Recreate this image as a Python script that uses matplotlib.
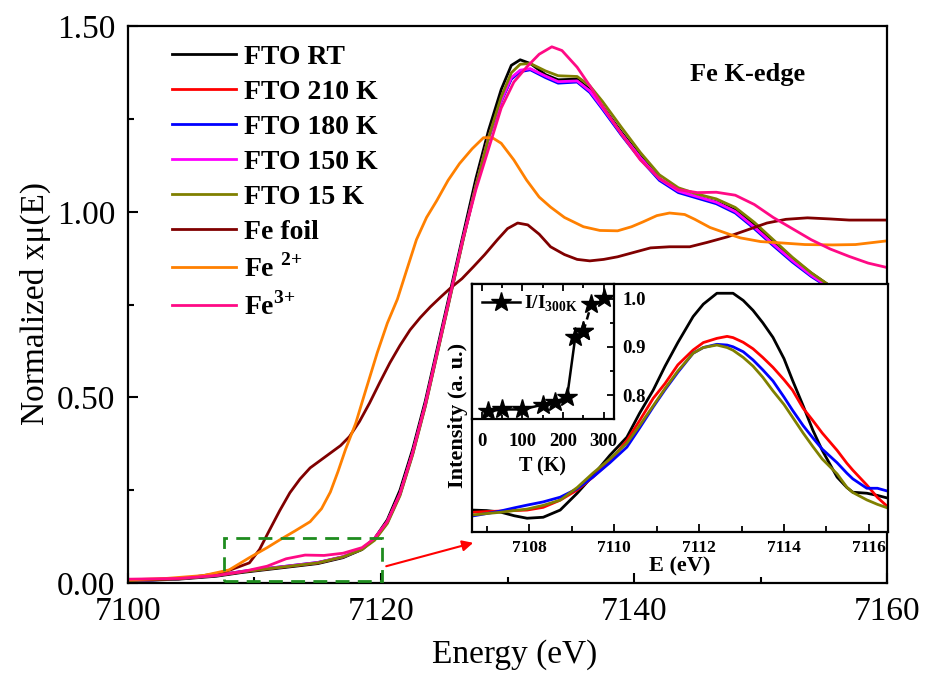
import numpy as np
import matplotlib
matplotlib.use('Agg')
import matplotlib.pyplot as plt
from matplotlib.patches import Rectangle

plt.rcParams['font.family'] = 'Liberation Serif'
plt.rcParams['mathtext.fontset'] = 'custom'
plt.rcParams['mathtext.rm'] = 'Liberation Serif'
plt.rcParams['mathtext.bf'] = 'Liberation Serif:bold'

# ---- main XANES spectra ----
e_fto = [7100, 7104, 7107, 7109, 7111, 7113, 7115, 7117, 7118.5, 7119.5, 7120.5, 7121.5,
         7122.5, 7123.5, 7124.5, 7125.5, 7126.5, 7127.5, 7128.5, 7129.5, 7130.3, 7131,
         7131.8, 7133, 7134, 7135.5, 7136.5, 7137.5, 7139, 7140.5, 7142, 7143.5, 7145,
         7146.5, 7148, 7149.5, 7151, 7152.5, 7154, 7155.5, 7157, 7158.5, 7160]
fto_rt = [0.005, 0.01, 0.018, 0.028, 0.036, 0.044, 0.052, 0.068, 0.09, 0.12, 0.17, 0.25,
          0.36, 0.49, 0.64, 0.79, 0.94, 1.09, 1.22, 1.33, 1.395, 1.41,
          1.40, 1.37, 1.356, 1.358, 1.33, 1.285, 1.215, 1.15, 1.09, 1.055, 1.04,
          1.027, 1.005, 0.965, 0.92, 0.875, 0.835, 0.80, 0.785, 0.783, 0.79]
fto_210 = [0.006, 0.011, 0.02, 0.03, 0.038, 0.046, 0.054, 0.07, 0.092, 0.12, 0.165, 0.24,
           0.35, 0.48, 0.63, 0.78, 0.93, 1.07, 1.2, 1.30, 1.36, 1.38,
           1.385, 1.365, 1.35, 1.352, 1.325, 1.28, 1.21, 1.145, 1.088, 1.055, 1.04,
           1.025, 1.0, 0.958, 0.912, 0.868, 0.828, 0.795, 0.782, 0.782, 0.79]
fto_180 = [0.005, 0.011, 0.02, 0.031, 0.039, 0.047, 0.055, 0.07, 0.091, 0.118, 0.163, 0.238,
           0.348, 0.478, 0.628, 0.778, 0.928, 1.068, 1.198, 1.298, 1.358, 1.378,
           1.383, 1.362, 1.347, 1.35, 1.322, 1.277, 1.207, 1.142, 1.085, 1.052, 1.037,
           1.022, 0.997, 0.955, 0.909, 0.865, 0.826, 0.793, 0.781, 0.782, 0.792]
fto_150 = [0.006, 0.012, 0.021, 0.031, 0.039, 0.047, 0.055, 0.071, 0.092, 0.12, 0.165, 0.24,
           0.35, 0.48, 0.63, 0.78, 0.93, 1.07, 1.2, 1.30, 1.362, 1.382,
           1.386, 1.366, 1.351, 1.353, 1.326, 1.281, 1.211, 1.146, 1.089, 1.056, 1.041,
           1.026, 1.001, 0.959, 0.913, 0.869, 0.829, 0.795, 0.782, 0.781, 0.788]
fto_15 = [0.006, 0.011, 0.02, 0.03, 0.038, 0.046, 0.054, 0.07, 0.09, 0.115, 0.16, 0.235,
          0.345, 0.475, 0.625, 0.775, 0.925, 1.07, 1.2, 1.31, 1.375, 1.398,
          1.40, 1.38, 1.367, 1.365, 1.34, 1.298, 1.228, 1.16, 1.10, 1.065, 1.048,
          1.035, 1.012, 0.972, 0.925, 0.878, 0.836, 0.80, 0.785, 0.782, 0.79]

e_fe3 = [7100, 7104, 7107, 7109, 7111, 7112.5, 7114, 7115.5, 7117, 7118.5, 7119.5, 7120.5,
         7121.5, 7122.5, 7123.5, 7124.5, 7125.5, 7126.5, 7127.5, 7128.5, 7129.5, 7130.5,
         7131.5, 7132.5, 7133.5, 7134.3, 7135.5, 7136.5, 7137.5, 7139, 7140.5, 7142,
         7143.5, 7145, 7146.5, 7148, 7149.5, 7151, 7152.5, 7154, 7155.5, 7157, 7158.5, 7160]
fe3 = [0.01, 0.012, 0.02, 0.03, 0.045, 0.065, 0.075, 0.074, 0.08, 0.095, 0.12, 0.165,
       0.24, 0.35, 0.48, 0.63, 0.78, 0.93, 1.06, 1.17, 1.28, 1.35,
       1.39, 1.425, 1.445, 1.435, 1.39, 1.34, 1.285, 1.21, 1.14, 1.09,
       1.06, 1.052, 1.053, 1.045, 1.02, 0.985, 0.955, 0.925, 0.90, 0.88, 0.862, 0.85]

e_fe2 = [7100, 7103, 7106, 7108, 7109.6, 7111, 7112, 7113.2, 7114.4, 7115.3, 7116, 7116.6,
         7117.2, 7118, 7118.8, 7119.7, 7120.5, 7121.3, 7122, 7122.8, 7123.6, 7124.4,
         7125.3, 7126.2, 7127.2, 7128.1, 7128.8, 7129.5, 7130.5, 7131.5, 7132.5, 7133.4,
         7134.5, 7136, 7137.3, 7138.7, 7139.8, 7140.7, 7141.8, 7142.8, 7144, 7144.8,
         7146, 7147.5, 7148.4, 7150, 7151.8, 7153.5, 7155.7, 7157.5, 7159, 7160]
fe2 = [0.008, 0.012, 0.02, 0.035, 0.068, 0.095, 0.116, 0.14, 0.165, 0.2, 0.245, 0.3,
       0.36, 0.43, 0.52, 0.62, 0.70, 0.765, 0.84, 0.925, 0.985, 1.03,
       1.085, 1.13, 1.17, 1.2, 1.2, 1.185, 1.14, 1.086, 1.04, 1.013,
       0.985, 0.96, 0.95, 0.949, 0.96, 0.973, 0.99, 0.997, 0.993, 0.98,
       0.958, 0.94, 0.93, 0.92, 0.916, 0.912, 0.911, 0.912, 0.918, 0.922]

e_foil = [7100, 7103, 7105, 7107, 7108.1, 7109.6, 7110.4, 7111.2, 7112, 7112.8, 7113.6, 7114.4,
          7115.2, 7116, 7116.8, 7117.5, 7118.3, 7119.1, 7119.9, 7120.7, 7121.5, 7122.3,
          7123.1, 7123.9, 7124.7, 7125.5, 7126.4, 7127.3, 7128.2, 7129.2, 7130, 7130.8,
          7131.6, 7132.5, 7133.4, 7134.5, 7135.5, 7136.5, 7137.6, 7138.7, 7140, 7141.3,
          7142.8, 7144.4, 7145.8, 7147.4, 7149, 7150.5, 7152, 7153.7, 7155.5, 7157, 7158.5, 7160]
fe_foil = [0.008, 0.01, 0.015, 0.025, 0.035, 0.054, 0.09, 0.143, 0.195, 0.243, 0.28, 0.31,
           0.33, 0.35, 0.37, 0.394, 0.435, 0.485, 0.54, 0.593, 0.64, 0.682,
           0.715, 0.744, 0.77, 0.795, 0.82, 0.852, 0.885, 0.925, 0.955, 0.97,
           0.965, 0.94, 0.906, 0.885, 0.872, 0.868, 0.872, 0.879, 0.891, 0.903,
           0.906, 0.906, 0.918, 0.933, 0.952, 0.97, 0.98, 0.984, 0.981, 0.978, 0.978, 0.978]

# ---- pre-edge zoom ----
e_pre = [7106.66, 7107.0, 7107.32, 7107.65, 7107.95, 7108.33, 7108.73, 7109.13, 7109.5, 7109.9,
         7110.3, 7110.6, 7110.92, 7111.2, 7111.5, 7111.86, 7112.1, 7112.42, 7112.66, 7112.8,
         7113.04, 7113.27, 7113.5, 7113.74, 7114.0, 7114.2, 7114.45, 7114.68, 7114.9, 7115.25,
         7115.48, 7115.62, 7115.95, 7116.2, 7116.45]
pre_rt = [0.089, 0.087, 0.081, 0.066, 0.056, 0.060, 0.089, 0.157, 0.228, 0.31,
          0.383, 0.48, 0.573, 0.67, 0.765, 0.87, 0.92, 0.964, 0.964, 0.964,
          0.935, 0.895, 0.845, 0.786, 0.70, 0.613, 0.51, 0.411, 0.33, 0.222,
          0.18, 0.161, 0.157, 0.148, 0.137]
pre_210 = [0.08, 0.083, 0.085, 0.087, 0.089, 0.10, 0.129, 0.17, 0.222, 0.285,
           0.37, 0.45, 0.54, 0.60, 0.675, 0.735, 0.765, 0.782, 0.79, 0.785,
           0.766, 0.74, 0.705, 0.665, 0.615, 0.573, 0.50, 0.45, 0.40, 0.33,
           0.278, 0.25, 0.19, 0.14, 0.101]
pre_180 = [0.065, 0.075, 0.085, 0.098, 0.109, 0.122, 0.141, 0.175, 0.222, 0.28,
           0.343, 0.42, 0.505, 0.575, 0.645, 0.722, 0.745, 0.758, 0.755, 0.748,
           0.728, 0.695, 0.655, 0.61, 0.545, 0.492, 0.43, 0.38, 0.335, 0.28,
           0.238, 0.215, 0.177, 0.177, 0.165]
pre_15 = [0.069, 0.075, 0.08, 0.087, 0.093, 0.108, 0.129, 0.18, 0.238, 0.295,
          0.359, 0.43, 0.51, 0.58, 0.65, 0.722, 0.745, 0.755, 0.745, 0.734,
          0.705, 0.67, 0.625, 0.57, 0.515, 0.464, 0.40, 0.345, 0.295, 0.235,
          0.181, 0.16, 0.13, 0.112, 0.097]

# ---- pre-edge intensity vs temperature ----
temps = [15, 50, 100, 150, 180, 210, 230, 250, 270, 300]
i_ratio = [0.766, 0.770, 0.770, 0.780, 0.785, 0.796, 0.920, 0.932, 0.990, 1.002]

fig = plt.figure(figsize=(9.27, 6.77), dpi=100)
ax = fig.add_axes([0.138, 0.139, 0.819, 0.822])

lw = 2.0
ax.plot(e_fto, fto_rt, color='black', lw=lw, label='FTO RT')
ax.plot(e_fto, fto_210, color='#FF0000', lw=lw, label='FTO 210 K')
ax.plot(e_fto, fto_180, color='#0000FF', lw=lw, label='FTO 180 K')
ax.plot(e_fto, fto_150, color='#FF00FF', lw=lw, label='FTO 150 K')
ax.plot(e_fto, fto_15, color='#808000', lw=lw, label='FTO 15 K')
ax.plot(e_foil, fe_foil, color='#800000', lw=lw, label='Fe foil')
ax.plot(e_fe2, fe2, color='#FF8000', lw=lw, label=r'Fe $^{\mathbf{2}\mathbf{+}}$')
ax.plot(e_fe3, fe3, color='#FF0A85', lw=lw, label=r'Fe$^{\mathbf{3}\mathbf{+}}$')

ax.set_xlim(7100, 7160)
ax.set_ylim(0, 1.5)
ax.set_xticks([7100, 7120, 7140, 7160])
ax.set_xticks([7110, 7130, 7150], minor=True)
ax.set_yticks([0, 0.5, 1.0, 1.5])
ax.set_yticks([0.25, 0.75, 1.25], minor=True)
ax.set_yticklabels(['0.00', '0.50', '1.00', '1.50'])
ax.tick_params(which='both', direction='in', labelsize=24, width=1.5)
ax.tick_params(which='major', length=7)
ax.tick_params(which='minor', length=4)
ax.tick_params(axis='x', pad=10)
ax.tick_params(axis='y', pad=9)
for s in ax.spines.values():
    s.set_linewidth(1.6)
fig.text(515 / 927, 1 - 655 / 677, 'Energy (eV)', fontsize=24, ha='center', va='center')
fig.text(35 / 927, 0.551, 'Normalized xμ(E)', fontsize=24, rotation=90,
         ha='center', va='center')

ax.legend(loc='upper left', bbox_to_anchor=(0.025, 1.012), frameon=False,
          prop={'family': 'Liberation Serif', 'weight': 'bold', 'size': 20},
          handlelength=2.3, handletextpad=0.3, labelspacing=0.34)
ax.text(7149, 1.37, 'Fe K-edge', fontsize=19, fontweight='bold', ha='center', va='center')

# dashed box around the pre-edge and arrow to the zoom
ax.add_patch(Rectangle((7107.6, 0.005), 12.5, 0.115, fill=False, ec='#1E8C1E',
                       lw=2, ls=(0, (5, 3)), zorder=5))
ax.annotate('', xy=(7127.5, 0.11), xytext=(7120.2, 0.043),
            arrowprops=dict(arrowstyle='-|>', color='red', lw=1.5, mutation_scale=16))

# inset: pre-edge peak
axi = fig.add_axes([0.509, 0.214, 0.449, 0.366])
axi.plot(e_pre, pre_rt, color='black', lw=lw)
axi.plot(e_pre, pre_210, color='#FF0000', lw=lw)
axi.plot(e_pre, pre_180, color='#0000FF', lw=lw)
axi.plot(e_pre, pre_15, color='#808000', lw=lw)
axi.set_xlim(7106.65, 7116.45)
axi.set_ylim(0, 1)
axi.set_xticks([7108, 7110, 7112, 7114, 7116])
axi.set_xticks([7107, 7109, 7111, 7113, 7115], minor=True)
axi.set_yticks([])
axi.tick_params(which='both', direction='in', labelsize=12.5, width=1.3, pad=6)
axi.tick_params(which='major', length=6)
axi.tick_params(which='minor', length=4)
for lab in axi.get_xticklabels():
    lab.set_fontweight('bold')
for s in axi.spines.values():
    s.set_linewidth(1.6)
axi.set_xlabel('E (eV)', fontsize=16, fontweight='bold', labelpad=0)
fig.text(0.494, 0.386, 'Intensity (a. u.)', rotation=90, fontsize=16,
         fontweight='bold', ha='center', va='center')

# inset in inset: intensity ratio vs temperature
axt = fig.add_axes([0.509, 0.381, 0.153, 0.199])
axt.plot(temps[:8], i_ratio[:8], color='black', lw=1.8, marker='*', ms=15,
         label=r'I/I$_{\mathbf{300K}}$')
axt.plot(temps[7:], i_ratio[7:], color='black', lw=1.8, ls=(0, (3, 2)), marker='*', ms=15)
axt.set_xlim(-24.6, 324.6)
axt.set_ylim(0.75, 1.03)
axt.set_xticks([0, 100, 200, 300])
axt.set_xticks([50, 150, 250], minor=True)
axt.set_yticks([0.8, 0.9, 1.0])
axt.set_yticks([0.85, 0.95], minor=True)
axt.yaxis.tick_right()
axt.tick_params(which='both', direction='in', top=True, labelsize=13.5, width=1.3)
axt.tick_params(which='major', length=5)
axt.tick_params(which='minor', length=3)
axt.tick_params(axis='x', pad=10)
axt.tick_params(axis='y', pad=6)
for lab in axt.get_xticklabels() + axt.get_yticklabels():
    lab.set_fontweight('bold')
for s in axt.spines.values():
    s.set_linewidth(1.6)
axt.set_xlabel('T (K)', fontsize=14.5, fontweight='bold', labelpad=5)
axt.legend(loc='upper left', frameon=False, handlelength=2.0, handletextpad=0.2,
           borderaxespad=0.1, prop={'family': 'Liberation Serif', 'weight': 'bold', 'size': 14})

plt.savefig('out.png', dpi=100)
plt.close()
